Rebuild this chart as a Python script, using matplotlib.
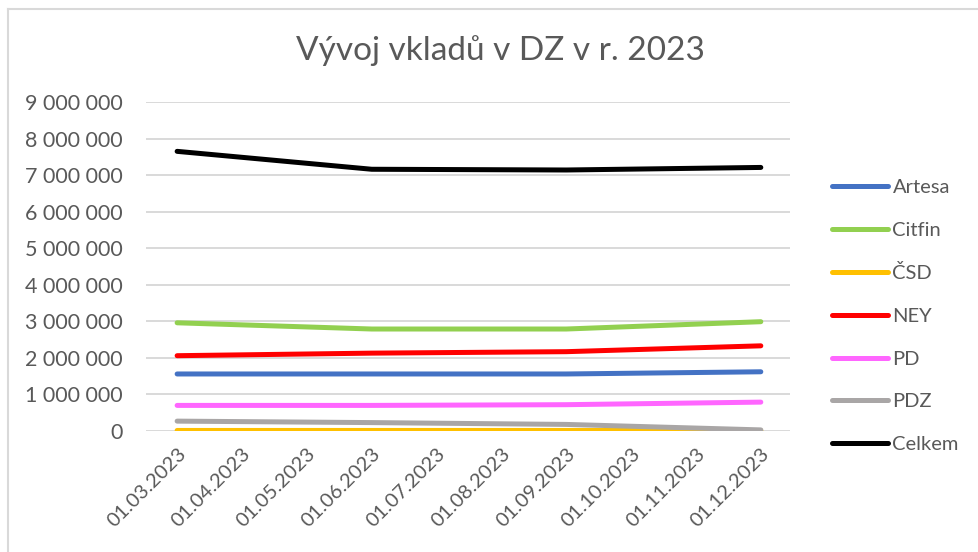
import matplotlib.pyplot as plt
from matplotlib.lines import Line2D
from matplotlib.ticker import FuncFormatter

plt.rcParams["font.family"] = ["Lato", "DejaVu Sans"]

months = ["01.03.2023", "01.04.2023", "01.05.2023", "01.06.2023", "01.07.2023",
          "01.08.2023", "01.09.2023", "01.10.2023", "01.11.2023", "01.12.2023"]
data_dates = ["01.03.2023", "01.06.2023", "01.09.2023", "01.12.2023"]

artesa = [1560000, 1560000, 1560000, 1620000]
citfin = [2960000, 2790000, 2790000, 2990000]
csd = [15000, 15000, 15000, 10000]
ney = [2060000, 2130000, 2170000, 2330000]
pd_ = [700000, 700000, 720000, 790000]
pdz = [270000, 230000, 180000, 30000]
celkem = [7650000, 7160000, 7140000, 7210000]

series = [
    ("Artesa", artesa, "#4472C4"),
    ("Citfin", citfin, "#92D050"),
    ("ČSD", csd, "#FFC000"),
    ("NEY", ney, "#FF0000"),
    ("PD", pd_, "#FF66FF"),
    ("PDZ", pdz, "#A9A6A6"),
    ("Celkem", celkem, "#000000"),
]

grey = "#595959"
x = [months.index(d) for d in data_dates]

fig = plt.figure(figsize=(9.79, 5.52), dpi=100)
ax = fig.add_axes([146 / 979, 1 - 431 / 552, (790 - 146) / 979, (431 - 102) / 552])

handles = []
for name, vals, col in series:
    ax.plot(x, vals, color=col, lw=3.6, solid_capstyle="round", solid_joinstyle="round", zorder=3)
    handles.append(Line2D([], [], color=col, lw=3.6, solid_capstyle="round", label=name))

ax.set_xlim(-0.48, 9.45)
ax.set_ylim(0, 9000000)
ax.set_yticks(range(0, 9000001, 1000000))
ax.yaxis.set_major_formatter(FuncFormatter(lambda v, p: f"{int(v):,}".replace(",", " ")))
ax.set_xticks(range(len(months)))
ax.set_xticklabels(months, rotation=45, ha="right", rotation_mode="anchor")
ax.tick_params(length=0, colors=grey, labelsize=15.5)
ax.tick_params(axis="x", labelsize=14.5, pad=10)
ax.tick_params(axis="y", pad=16.5)
ax.grid(axis="y", color="#D9D9D9", lw=1.4)
ax.set_axisbelow(True)
for s in ax.spines.values():
    s.set_visible(False)

fig.text(500 / 979, 1 - 51 / 552, "Vývoj vkladů v DZ v r. 2023", ha="center", va="center",
         fontsize=24, color=grey)

leg = fig.legend(handles=handles, loc="upper left", bbox_to_anchor=(822 / 979, 1 - 169 / 552),
                 frameon=False, fontsize=14.5, labelcolor=grey, handlelength=2.8,
                 handletextpad=0.2, labelspacing=1.27, borderpad=0)

# chart border (left and top visible in the reference)
fig.add_artist(Line2D([8 / 979, 8 / 979], [0, 1 - 9 / 552], color="#D9D9D9", lw=1.5))
fig.add_artist(Line2D([8 / 979, 1], [1 - 9 / 552, 1 - 9 / 552], color="#D9D9D9", lw=1.5))

fig.savefig("out.png", dpi=100)
